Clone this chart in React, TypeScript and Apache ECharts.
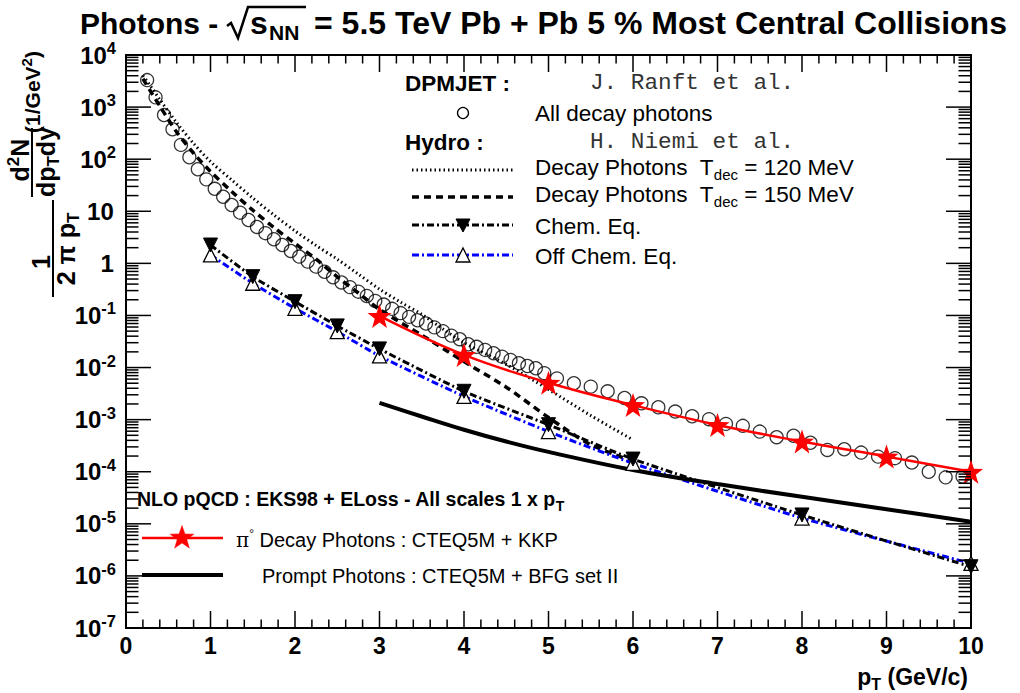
import React, { useEffect, useRef } from "react";
import * as echarts from "echarts";

// ---------------- DATA ----------------
const dpmjetPt = [
  0.25, 0.35, 0.45, 0.55, 0.65, 0.75, 0.85, 0.95, 1.05, 1.15, 1.25, 1.35, 1.45, 1.55, 1.65, 1.75,
  1.85, 1.95, 2.05, 2.15, 2.25, 2.35, 2.45, 2.55, 2.65, 2.75, 2.85, 2.95, 3.05, 3.15, 3.25, 3.35,
  3.45, 3.55, 3.65, 3.75, 3.85, 3.95, 4.05, 4.15, 4.25, 4.35, 4.45, 4.55, 4.65, 4.75, 4.85, 4.95,
  5.1, 5.3, 5.5, 5.7, 5.9, 6.1, 6.3, 6.5, 6.7, 6.9, 7.1, 7.3, 7.5, 7.7, 7.9, 8.1, 8.3, 8.5, 8.7,
  8.9, 9.1, 9.3, 9.5, 9.7, 9.9,
];
const dpmjetYield = [
  3300, 1540, 705, 375, 188, 109, 64, 41, 27, 19, 13.2, 9.4, 6.8, 5.0, 3.8, 2.9,
  2.25, 1.73, 1.35, 1.08, 0.865, 0.69, 0.54, 0.43, 0.35, 0.286, 0.237, 0.19, 0.162, 0.134, 0.111, 0.094,
  0.081, 0.07, 0.059, 0.05, 0.041, 0.035, 0.028, 0.025, 0.0218, 0.0188, 0.0162, 0.014, 0.0121, 0.0107, 0.0097, 0.0078,
  0.0062, 0.005, 0.0043, 0.0035, 0.0026, 0.00206, 0.00173, 0.00143, 0.00116, 0.00102, 0.00083, 0.00076, 0.00059, 0.00046, 0.00049, 0.00036, 0.000262, 0.00027, 0.000233,
  0.000195, 0.000182, 0.00015, 0.0001, 0.000078, 0.000081,
];

const hydro120Pt = [0.2, 0.3, 0.4, 0.6, 0.8, 1.0, 1.25, 1.5, 1.75, 2.0, 2.25, 2.5, 2.75, 3.0, 3.25, 3.5, 3.75, 4.0, 4.5, 5.0, 5.5, 6.0];
const hydro120Yield = [4000, 2400, 1400, 500, 200, 90, 40, 18, 8.5, 4.2, 2.2, 1.2, 0.62, 0.32, 0.18, 0.105, 0.055, 0.03, 0.0115, 0.0038, 0.0012, 0.00041];

const hydro150Pt = [0.2, 0.3, 0.4, 0.6, 0.8, 1.0, 1.25, 1.5, 1.75, 2.0, 2.25, 2.5, 2.75, 3.0, 3.5, 4.0, 4.5, 5.0, 5.5, 6.0];
const hydro150Yield = [3500, 1900, 1050, 330, 130, 58, 24, 10.5, 4.9, 2.4, 1.2, 0.55, 0.27, 0.13, 0.042, 0.013, 0.0042, 0.0011, 0.00033, 0.00016];

const chemPt = [1, 1.5, 2, 2.5, 3, 4, 5, 6, 8, 10];
const chemEqYield = [2.25, 0.556, 0.184, 0.063, 0.0228, 0.0035, 0.0008, 0.000175, 0.0000148, 0.0000015];
const offChemEqYield = [1.45, 0.415, 0.137, 0.049, 0.0167, 0.0028, 0.00059, 0.000145, 0.0000129, 0.00000174];

const pi0Pt = [3, 4, 5, 6, 7, 8, 9, 10];
const pi0Yield = [0.098, 0.0175, 0.0051, 0.0019, 0.00079, 0.00038, 0.000195, 0.0001];

const promptPt = [3, 3.5, 4, 4.5, 5, 6, 7, 8, 9, 10];
const promptYield = [0.0021, 0.00115, 0.00064, 0.00038, 0.00024, 0.000108, 0.000058, 0.000033, 0.000019, 0.000011];

const xTickLabels = ["0", "1", "2", "3", "4", "5", "6", "7", "8", "9", "10"];
const yExponents = [-7, -6, -5, -4, -3, -2, -1, 0, 1, 2, 3, 4];

// ---------------- HELPERS ----------------
const pairs = (xs: number[], ys: number[]) => xs.map((x, i) => [x, ys[i]]);
const SANS = "'Liberation Sans', Arial, Helvetica, sans-serif";
const MONO = "'Liberation Mono', 'Courier New', monospace";

const starPoints = (cx: number, cy: number, R: number, r: number) => {
  const pts: number[][] = [];
  for (let i = 0; i < 10; i++) {
    const rr = i % 2 === 0 ? R : r;
    const a = -Math.PI / 2 + (i * Math.PI) / 5;
    pts.push([cx + rr * Math.cos(a), cy + rr * Math.sin(a)]);
  }
  return pts;
};
const starSymbol =
  "path://" +
  starPoints(0, 0, 1, 0.4)
    .map((p, i) => (i === 0 ? "M" : "L") + p[0].toFixed(3) + "," + p[1].toFixed(3))
    .join("") +
  "Z";

const CHEM_DASH = [7, 3, 2, 3];
const LFS = 22.5; // top legend font size

export default function App() {
  const ref = useRef<HTMLDivElement>(null);

  useEffect(() => {
    document.body.style.margin = "0";
    const chart = echarts.init(ref.current!, null, { renderer: "svg" });

    const xMajor = xTickLabels.map((s) => Number(s));
    const xMinor: number[] = [];
    for (let i = 0; i <= 50; i++) if (i % 5 !== 0) xMinor.push(i / 5);
    const yMajor = yExponents.map((e) => Math.pow(10, e));
    const yMinor: number[] = [];
    for (let e = -7; e < 4; e++) for (let m = 2; m <= 9; m++) yMinor.push(m * Math.pow(10, e));

    const tickSeries = {
      type: "custom",
      silent: true,
      clip: false,
      z: 10,
      data: [[5, 1]],
      renderItem: (params: any, api: any) => {
        const cs = params.coordSys;
        const L = cs.x, R = cs.x + cs.width, T = cs.y, B = cs.y + cs.height;
        const ch: any[] = [];
        const ln = (x1: number, y1: number, x2: number, y2: number) =>
          ch.push({ type: "line", shape: { x1, y1, x2, y2 }, style: { stroke: "#000", lineWidth: 1.5 } });
        xMajor.forEach((v) => {
          const p = api.coord([v, 1])[0];
          ln(p, B, p, B - 17);
          ln(p, T, p, T + 17);
        });
        xMinor.forEach((v) => {
          const p = api.coord([v, 1])[0];
          ln(p, B, p, B - 8.5);
          ln(p, T, p, T + 8.5);
        });
        yMajor.forEach((v) => {
          const p = api.coord([0, v])[1];
          ln(L, p, L + 25, p);
          ln(R, p, R - 25, p);
        });
        yMinor.forEach((v) => {
          const p = api.coord([0, v])[1];
          ln(L, p, L + 12.5, p);
          ln(R, p, R - 12.5, p);
        });
        return { type: "group", children: ch };
      },
    };

    const rich = {
      n: { fontFamily: SANS, fontSize: LFS, fill: "#000" },
      b: { fontFamily: SANS, fontSize: LFS, fontWeight: "bold", fill: "#000" },
      n2: { fontFamily: SANS, fontSize: 20, fill: "#000" },
      b2: { fontFamily: SANS, fontSize: 19.5, fontWeight: "bold", fill: "#000" },
      sub: { fontFamily: SANS, fontSize: 15, fill: "#000", padding: [15, 0, 0, 0] },
      bsub: { fontFamily: SANS, fontSize: 14, fontWeight: "bold", fill: "#000", padding: [14, 0, 0, 0] },
      sup: { fontFamily: SANS, fontSize: 12, fill: "#000", padding: [0, 0, 12, 0] },
      pi: { fontFamily: "'DejaVu Serif', serif", fontSize: 20, fill: "#000" },
    };
    const legendText = (x: number, y: number, text: string) => ({
      type: "text",
      x,
      y,
      style: { text, verticalAlign: "middle", rich },
    });

    const TFS = 32;
    const graphic: any[] = [
      // Title
      { type: "text", x: 80, y: 23, style: { text: "Photons -", fontFamily: SANS, fontSize: 30, fontWeight: "bold", fill: "#000", verticalAlign: "middle" } },
      { type: "polyline", shape: { points: [[227, 26], [231, 23], [238, 38], [248, 7], [306, 7]] }, style: { stroke: "#000", lineWidth: 2.5, fill: "none" } },
      { type: "text", x: 250, y: 23, style: { text: "s", fontFamily: SANS, fontSize: TFS, fontWeight: "bold", fill: "#000", verticalAlign: "middle" } },
      { type: "text", x: 269, y: 32, style: { text: "NN", fontFamily: SANS, fontSize: 21, fontWeight: "bold", fill: "#000", verticalAlign: "middle" } },
      { type: "text", x: 314, y: 23, style: { text: "= 5.5 TeV Pb + Pb 5 % Most Central Collisions", fontFamily: SANS, fontSize: TFS, fontWeight: "bold", fill: "#000", verticalAlign: "middle" } },
      // Y title (rotated)
      {
        type: "text", x: 41, y: 262, rotation: Math.PI / 2,
        style: { text: "1", fontFamily: SANS, fontSize: 25, fontWeight: "bold", fill: "#000", align: "center", verticalAlign: "middle" },
      },
      { type: "line", shape: { x1: 53, y1: 200, x2: 53, y2: 297 }, style: { stroke: "#000", lineWidth: 2 } },
      {
        type: "text", x: 66, y: 249, rotation: Math.PI / 2,
        style: {
          text: "{b|2 π p}{s|T}", align: "center", verticalAlign: "middle",
          rich: {
            b: { fontFamily: SANS, fontSize: 25, fontWeight: "bold", fill: "#000" },
            s: { fontFamily: SANS, fontSize: 17, fontWeight: "bold", fill: "#000", padding: [14, 0, 0, 0] },
          },
        },
      },
      {
        type: "text", x: 20, y: 160, rotation: Math.PI / 2,
        style: {
          text: "{b|d}{p|2}{b|N}", align: "center", verticalAlign: "middle",
          rich: {
            b: { fontFamily: SANS, fontSize: 25, fontWeight: "bold", fill: "#000" },
            p: { fontFamily: SANS, fontSize: 17, fontWeight: "bold", fill: "#000", padding: [0, 0, 14, 0] },
          },
        },
      },
      { type: "line", shape: { x1: 32, y1: 128, x2: 32, y2: 197 }, style: { stroke: "#000", lineWidth: 2 } },
      {
        type: "text", x: 46, y: 162, rotation: Math.PI / 2,
        style: {
          text: "{b|dp}{s|T}{b|dy}", align: "center", verticalAlign: "middle",
          rich: {
            b: { fontFamily: SANS, fontSize: 25, fontWeight: "bold", fill: "#000" },
            s: { fontFamily: SANS, fontSize: 17, fontWeight: "bold", fill: "#000", padding: [14, 0, 0, 0] },
          },
        },
      },
      {
        type: "text", x: 32, y: 92, rotation: Math.PI / 2,
        style: {
          text: "{b|(1/GeV}{p|2}{b|)}", align: "center", verticalAlign: "middle",
          rich: {
            b: { fontFamily: SANS, fontSize: 21, fontWeight: "bold", fill: "#000" },
            p: { fontFamily: SANS, fontSize: 15, fontWeight: "bold", fill: "#000", padding: [0, 0, 12, 0] },
          },
        },
      },
      // X title
      {
        type: "text", x: 968, y: 677,
        style: {
          text: "{b|p}{s|T}{b| (GeV/c)}", align: "right", verticalAlign: "middle",
          rich: {
            b: { fontFamily: SANS, fontSize: 23, fontWeight: "bold", fill: "#000" },
            s: { fontFamily: SANS, fontSize: 16, fontWeight: "bold", fill: "#000", padding: [14, 0, 0, 0] },
          },
        },
      },
      // Top legend
      legendText(405, 83, "{b|DPMJET :}"),
      { type: "text", x: 590, y: 83, style: { text: "J. Ranft et al.", fontFamily: MONO, fontSize: 22.7, fill: "#333", verticalAlign: "middle" } },
      { type: "circle", shape: { cx: 463, cy: 113, r: 5.5 }, style: { fill: "none", stroke: "#000", lineWidth: 1.3 } },
      legendText(535, 113, "{n|All decay photons}"),
      legendText(405, 142, "{b|Hydro :}"),
      { type: "text", x: 590, y: 142, style: { text: "H. Niemi et al.", fontFamily: MONO, fontSize: 22.7, fill: "#333", verticalAlign: "middle" } },
      { type: "line", shape: { x1: 412, y1: 170, x2: 513, y2: 170 }, style: { stroke: "#000", lineWidth: 3, lineDash: [1.5, 3] } },
      legendText(535, 167, "{n|Decay Photons  T}{sub|dec}{n| = 120 MeV}"),
      { type: "line", shape: { x1: 412, y1: 197, x2: 513, y2: 197 }, style: { stroke: "#000", lineWidth: 3.5, lineDash: [7, 5] } },
      legendText(535, 194, "{n|Decay Photons  T}{sub|dec}{n| = 150 MeV}"),
      { type: "line", shape: { x1: 412, y1: 225, x2: 513, y2: 225 }, style: { stroke: "#000", lineWidth: 3, lineDash: CHEM_DASH } },
      { type: "polygon", shape: { points: [[456, 219], [470, 219], [463, 232]] }, style: { fill: "#000", stroke: "#000", lineWidth: 1 } },
      legendText(535, 226, "{n|Chem. Eq.}"),
      { type: "line", shape: { x1: 412, y1: 255, x2: 513, y2: 255 }, style: { stroke: "#0000ff", lineWidth: 3, lineDash: CHEM_DASH } },
      { type: "polygon", shape: { points: [[456, 262], [470, 262], [463, 248]] }, style: { fill: "#fff", stroke: "#000", lineWidth: 1.3 } },
      legendText(535, 256, "{n|Off Chem. Eq.}"),
      // Bottom legend
      legendText(137, 499, "{b2|NLO pQCD : EKS98 + ELoss - All scales 1 x p}{bsub|T}"),
      { type: "line", shape: { x1: 142, y1: 538, x2: 223, y2: 538 }, style: { stroke: "#ff0000", lineWidth: 2.5 } },
      { type: "polygon", shape: { points: starPoints(182, 538, 12.5, 5) }, style: { fill: "#ff0000", stroke: "#ff0000", lineWidth: 0.5 } },
      legendText(236, 540, "{pi|π}{sup|°}{n2| Decay Photons : CTEQ5M + KKP}"),
      { type: "line", shape: { x1: 142, y1: 575, x2: 223, y2: 575 }, style: { stroke: "#000", lineWidth: 4 } },
      legendText(262, 576, "{n2|Prompt Photons : CTEQ5M + BFG set II}"),
    ];

    const option: any = {
      animation: false,
      backgroundColor: "#fff",
      grid: { left: 126, top: 55, right: 49, bottom: 65, show: true, borderColor: "#000", borderWidth: 2, backgroundColor: "transparent" },
      xAxis: {
        type: "value",
        min: 0,
        max: 10,
        interval: 1,
        axisLine: { show: false },
        axisTick: { show: false },
        splitLine: { show: false },
        axisLabel: {
          margin: 6,
          fontFamily: SANS,
          fontSize: 23,
          fontWeight: "bold",
          color: "#000",
          formatter: (v: number) => xTickLabels[Math.round(v)] ?? "",
        },
      },
      yAxis: {
        type: "log",
        logBase: 10,
        min: 1e-7,
        max: 1e4,
        axisLine: { show: false },
        axisTick: { show: false },
        splitLine: { show: false },
        minorTick: { show: false },
        axisLabel: {
          margin: 10,
          customValues: yMajor,
          showMinLabel: true,
          showMaxLabel: true,
          formatter: (v: number) => {
            const e = Math.round(Math.log10(v));
            if (e === 0) return "{b|1}{pad| }";
            if (e === 1) return "{b|10}{pad| }";
            return "{b|10}{s|" + e + "}";
          },
          rich: {
            b: { fontFamily: SANS, fontSize: 24, fontWeight: "bold", color: "#000" },
            s: { fontFamily: SANS, fontSize: 16.5, fontWeight: "bold", color: "#000", padding: [0, 0, 14, 0] },
            pad: { fontSize: 8 },
          },
        },
      },
      graphic,
      series: [
        {
          name: "dpmjet",
          type: "scatter",
          data: pairs(dpmjetPt, dpmjetYield),
          symbol: "circle",
          symbolSize: 13,
          itemStyle: { color: "rgba(0,0,0,0)", borderColor: "#000", borderWidth: 1.3 },
          z: 3,
        },
        {
          name: "hydro120",
          type: "line",
          data: pairs(hydro120Pt, hydro120Yield),
          showSymbol: false,
          smooth: 0.3,
          lineStyle: { color: "#000", width: 3, type: [1.5, 3] },
          z: 2,
        },
        {
          name: "hydro150",
          type: "line",
          data: pairs(hydro150Pt, hydro150Yield),
          showSymbol: false,
          smooth: 0.3,
          lineStyle: { color: "#000", width: 3.5, type: [7, 5] },
          z: 2,
        },
        {
          name: "offchem",
          type: "line",
          data: pairs(chemPt, offChemEqYield),
          smooth: 0.2,
          symbol: "triangle",
          symbolSize: 14,
          itemStyle: { color: "#fff", borderColor: "#000", borderWidth: 1.3 },
          lineStyle: { color: "#0000ff", width: 3, type: CHEM_DASH },
          z: 4,
        },
        {
          name: "chem",
          type: "line",
          data: pairs(chemPt, chemEqYield),
          smooth: 0.2,
          symbol: "triangle",
          symbolRotate: 180,
          symbolSize: 14,
          itemStyle: { color: "#000", borderColor: "#000", borderWidth: 1 },
          lineStyle: { color: "#000", width: 3, type: CHEM_DASH },
          z: 4,
        },
        {
          name: "prompt",
          type: "line",
          data: pairs(promptPt, promptYield),
          showSymbol: false,
          smooth: 0.4,
          lineStyle: { color: "#000", width: 4 },
          z: 4,
        },
        {
          name: "pi0",
          type: "line",
          data: pairs(pi0Pt, pi0Yield),
          smooth: 0.4,
          symbol: starSymbol,
          symbolSize: 24,
          itemStyle: { color: "#ff0000" },
          lineStyle: { color: "#ff0000", width: 2.5 },
          z: 5,
        },
        tickSeries,
      ],
    };

    chart.setOption(option);
    return () => chart.dispose();
  }, []);

  return <div ref={ref} style={{ position: "absolute", left: 0, top: 0, width: 1020, height: 693 }} />;
}
